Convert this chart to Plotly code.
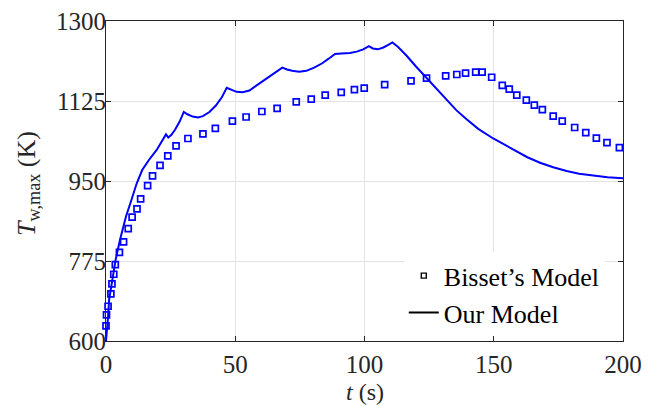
import plotly.graph_objects as go

# Our Model: maximum wall temperature over time
model_t = [0, 0.3, 0.8, 1.2, 2.3, 3.7, 5.4, 7.7, 9.8, 11.9, 14, 16.6, 19.6, 21.9,
           23.2, 24.1, 25.3, 26.7, 28.5, 30.1, 31.5, 33.5, 35.6, 37.5, 40, 42.5,
           44.8, 46.7, 48.5, 50.5, 52.8, 55.5, 58, 61, 64, 66.5, 68.2, 70, 72,
           74.7, 77.5, 80.5, 83.5, 86, 88.6, 91, 94.4, 97, 99.5, 101.7, 103.2,
           105.2, 107.3, 109, 110.8, 113, 116.3, 120, 124, 128, 131.8, 135.5,
           139.5, 144, 149.8, 154, 158.9, 163, 167.9, 173, 178.2, 183, 188.5,
           194, 200]
model_T = [600, 617, 653, 690, 733, 777, 821, 872, 908, 945, 974, 996, 1018, 1040,
           1052, 1045, 1051, 1062, 1080, 1101, 1096, 1091, 1089, 1092, 1101, 1115,
           1133, 1154, 1149, 1145, 1144, 1148, 1158, 1170, 1180, 1190, 1198, 1194,
           1191, 1189, 1191, 1198, 1207, 1217, 1228, 1229, 1230, 1233, 1238, 1245,
           1240, 1238, 1242, 1247, 1253, 1243, 1224, 1200, 1175, 1151, 1127, 1105,
           1085, 1064, 1043, 1030, 1014, 1002, 990, 980, 972, 966, 962, 958, 956]

# Bisset's Model: sampled points
bisset_t = [0, 0.2, 0.8, 1.9, 2.3, 3.0, 3.6, 5.2, 6.8, 8.6, 10.1, 12.0, 13.4, 16.1,
            18.0, 20.9, 23.9, 27.1, 31.7, 37.5, 42.3, 48.9, 54.2, 60.3, 66.2,
            73.6, 79.4, 84.8, 91.0, 96.1, 99.9, 107.8, 118.0, 124.0, 131.4,
            135.7, 139.1, 143.0, 145.5, 149.2, 153.3, 156.0, 158.9, 162.6,
            165.7, 168.8, 173.0, 176.5, 181.3, 185.6, 189.7, 193.8, 198.6]
bisset_T = [633, 657, 676, 703, 725, 746, 767, 794, 817, 846, 871, 889, 911, 940,
            961, 984, 1005, 1027, 1043, 1053, 1065, 1081, 1090, 1102, 1109,
            1123, 1129, 1138, 1144, 1150, 1153, 1161, 1169, 1175, 1180,
            1183, 1186, 1188, 1188, 1177, 1159, 1151, 1138, 1127,
            1116, 1106, 1092, 1081, 1067, 1056, 1044, 1034, 1023]

x_ticks = [0, 50, 100, 150, 200]
y_ticks = [600, 775, 950, 1125, 1300]

BLUE = "rgb(0,0,255)"
INK = "#262626"
FONT = "Liberation Serif"

fig = go.Figure()

# data traces (blue); legend entries are drawn separately in black
fig.add_trace(go.Scatter(x=bisset_t, y=bisset_T, mode="markers", showlegend=False,
                         cliponaxis=False,
                         marker=dict(symbol="square-open", size=6, color=BLUE,
                                     line=dict(width=1.7, color=BLUE))))
fig.add_trace(go.Scatter(x=model_t, y=model_T, mode="lines", showlegend=False,
                         line=dict(color=BLUE, width=2)))

fig.add_trace(go.Scatter(x=[None], y=[None], mode="markers", name="Bisset’s Model",
                         marker=dict(symbol="square-open", size=5, color="black",
                                     line=dict(width=1.4, color="black"))))
fig.add_trace(go.Scatter(x=[None], y=[None], mode="lines", name="Our Model",
                         line=dict(color="black", width=2)))

axis_common = dict(
    showline=True, linecolor=INK, linewidth=1, mirror="ticks",
    ticks="inside", ticklen=5, tickcolor=INK, tickwidth=1,
    showgrid=True, gridcolor="#e3e3e3", gridwidth=1, zeroline=False,
    tickfont=dict(family=FONT, size=25, color=INK), automargin=False,
)

fig.update_xaxes(range=[0, 200], tickvals=x_ticks, ticktext=[str(v) for v in x_ticks],
                 ticklabelstandoff=1, **axis_common)
fig.update_yaxes(range=[600, 1300], tickvals=y_ticks, ticktext=[str(v) for v in y_ticks],
                 ticklabelstandoff=-6, **axis_common)

# axis titles placed as annotations
fig.add_annotation(text="<i>t</i> (s)", xref="paper", yref="paper",
                   x=0.5, y=0, xanchor="center", yanchor="middle", yshift=-51,
                   showarrow=False, font=dict(family=FONT, size=24, color=INK))
fig.add_annotation(text="<i>T</i><sub>w,max</sub> (K)", xref="paper", yref="paper",
                   x=-0.151, y=0.5, xanchor="center", yanchor="middle",
                   textangle=-90, showarrow=False, yshift=-2,
                   font=dict(family=FONT, size=26, color=INK))

fig.update_layout(
    width=655, height=406,
    margin=dict(l=106, r=32, t=21, b=65, autoexpand=False),
    paper_bgcolor="white", plot_bgcolor="white",
    font=dict(family=FONT, size=26, color="black"),
    legend=dict(x=0.576, xanchor="left", y=0.015, yanchor="bottom",
                bgcolor="white", borderwidth=0,
                font=dict(family=FONT, size=26, color="black"),
                tracegroupgap=0, itemwidth=30),
)

fig.write_html("out.html")
